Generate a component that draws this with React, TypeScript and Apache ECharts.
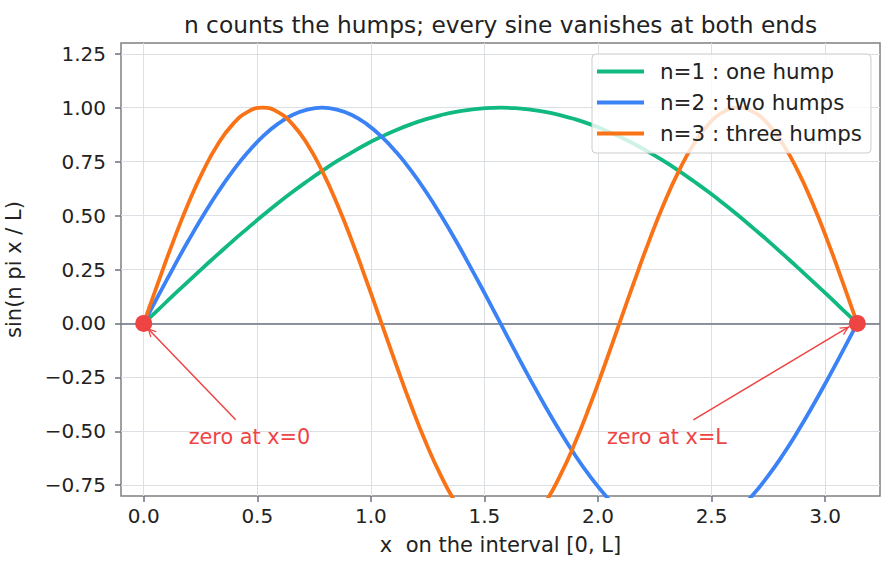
import React, { useEffect, useRef } from "react";
import * as echarts from "echarts";

// Sample positions along [0, L] (L = pi) and the curve values
const xs = [
  0, 0.0654, 0.1309, 0.1963, 0.2618, 0.3272, 0.3927, 0.4581, 0.5236, 0.589, 0.6545, 0.7199,
  0.7854, 0.8508, 0.9163, 0.9817, 1.0472, 1.1126, 1.1781, 1.2435, 1.309, 1.3744, 1.4399, 1.5053,
  1.5708, 1.6362, 1.7017, 1.7671, 1.8326, 1.898, 1.9635, 2.0289, 2.0944, 2.1598, 2.2253, 2.2907,
  2.3562, 2.4216, 2.4871, 2.5525, 2.618, 2.6834, 2.7489, 2.8143, 2.8798, 2.9452, 3.0107, 3.0761,
  3.1416,
];
const sinN1 = [
  0, 0.065, 0.131, 0.195, 0.259, 0.321, 0.383, 0.442, 0.5, 0.556, 0.609, 0.659,
  0.707, 0.752, 0.793, 0.832, 0.866, 0.897, 0.924, 0.947, 0.966, 0.981, 0.991, 0.998,
  1, 0.998, 0.991, 0.981, 0.966, 0.947, 0.924, 0.897, 0.866, 0.832, 0.793, 0.752,
  0.707, 0.659, 0.609, 0.556, 0.5, 0.442, 0.383, 0.321, 0.259, 0.195, 0.131, 0.065,
  0,
];
const sinN2 = [
  0, 0.131, 0.259, 0.383, 0.5, 0.609, 0.707, 0.793, 0.866, 0.924, 0.966, 0.991,
  1, 0.991, 0.966, 0.924, 0.866, 0.793, 0.707, 0.609, 0.5, 0.383, 0.259, 0.131,
  0, -0.131, -0.259, -0.383, -0.5, -0.609, -0.707, -0.793, -0.866, -0.924, -0.966, -0.991,
  -1, -0.991, -0.966, -0.924, -0.866, -0.793, -0.707, -0.609, -0.5, -0.383, -0.259, -0.131,
  0,
];
const sinN3 = [
  0, 0.195, 0.383, 0.556, 0.707, 0.832, 0.924, 0.981, 1, 0.981, 0.924, 0.832,
  0.707, 0.556, 0.383, 0.195, 0, -0.195, -0.383, -0.556, -0.707, -0.832, -0.924, -0.981,
  -1, -0.981, -0.924, -0.832, -0.707, -0.556, -0.383, -0.195, 0, 0.195, 0.383, 0.556,
  0.707, 0.832, 0.924, 0.981, 1, 0.981, 0.924, 0.832, 0.707, 0.556, 0.383, 0.195,
  0,
];
const seriesNames = ["n=1 : one hump", "n=2 : two humps", "n=3 : three humps"];
const seriesColors = ["#10b981", "#3b82f6", "#f97316"];

const xTicks = [0, 0.5, 1.0, 1.5, 2.0, 2.5, 3.0];
const yTicks = [-0.75, -0.5, -0.25, 0, 0.25, 0.5, 0.75, 1.0, 1.25];

// Zero markers at both ends
const markerX = [0, 3.1416];
const markerY = [0, 0];

// Annotations: text anchor, arrow start, arrow end (data coordinates)
const annoTexts = ["zero at x=0", "zero at x=L"];
const annoX = [0.2, 2.0416];
const annoY = [-0.55, -0.55];
const arrowFromX = [0.405, 2.42];
const arrowFromY = [-0.447, -0.447];
const arrowToX = [0.016, 3.106];
const arrowToY = [-0.021, -0.015];

const FONT = "DejaVu Sans";
const RED = "#ef4444";

const chevron = "path://M5,0 L10,10 L8.4,10 L5,3 L1.6,10 L0,10 Z";

export default function App() {
  const ref = useRef<HTMLDivElement>(null);

  useEffect(() => {
    if (!ref.current) return;
    const chart = echarts.init(ref.current, undefined, { renderer: "svg" });
    const curves = [sinN1, sinN2, sinN3];

    const lineSeries = curves.map((vals, k) => ({
      name: seriesNames[k],
      type: "line",
      data: xs.map((x, i) => [x, vals[i]]),
      showSymbol: false,
      smooth: 0.5,
      clip: true,
      z: 3,
      lineStyle: { color: seriesColors[k], width: 3.8 },
      itemStyle: { color: seriesColors[k] },
      emphasis: { disabled: true },
      ...(k === 0
        ? {
            markLine: {
              silent: true,
              symbol: ["none", "none"],
              label: { show: false },
              lineStyle: { color: "#6b7280", width: 1.6, type: "solid" },
              emphasis: { disabled: true },
              data: [{ yAxis: 0 }],
              z: 2,
            },
          }
        : {}),
    }));

    chart.setOption({
      animation: false,
      backgroundColor: "#ffffff",
      textStyle: { fontFamily: FONT },
      title: {
        text: "n counts the humps; every sine vanishes at both ends",
        left: 495.5,
        top: 8,
        textAlign: "center",
        textStyle: { fontSize: 23.3, fontWeight: "normal", color: "#222222", fontFamily: FONT },
      },
      grid: {
        left: 121,
        top: 43,
        width: 759,
        height: 453,
        containLabel: false,
        outerBoundsMode: "none",
        show: true,
        borderColor: "#808080",
        borderWidth: 1.5,
        backgroundColor: "transparent",
      },
      legend: {
        data: seriesNames,
        orient: "vertical",
        left: 592,
        top: 54,
        padding: [7, 9, 9, 5],
        itemWidth: 47,
        itemHeight: 4,
        itemGap: 10,
        icon: "rect",
        selectedMode: false,
        backgroundColor: "rgba(255,255,255,0.8)",
        borderColor: "#cccccc",
        borderWidth: 1,
        borderRadius: 4,
        textStyle: {
          fontSize: 21.4,
          color: "#222222",
          fontFamily: FONT,
          lineHeight: 20,
          padding: [0, 0, 0, 11],
        },
      },
      xAxis: {
        type: "value",
        min: -0.1,
        max: 3.2416,
        name: "x  on the interval [0, L]",
        nameLocation: "middle",
        nameGap: 38,
        nameTextStyle: { fontSize: 21, color: "#222222", fontFamily: FONT },
        axisLine: { show: false, onZero: false },
        axisTick: {
          show: true,
          length: 6,
          customValues: xTicks,
          lineStyle: { color: "#6b7280", width: 1.5 },
        },
        axisLabel: {
          customValues: xTicks,
          margin: 10,
          fontSize: 20,
          color: "#222222",
          fontFamily: FONT,
          formatter: (v: number) => v.toFixed(1),
        },
        splitLine: { show: true, lineStyle: { color: "#dcdfe4", width: 1 } },
      },
      yAxis: {
        type: "value",
        min: -0.8,
        max: 1.3,
        name: "sin(n pi x / L)",
        nameLocation: "middle",
        nameGap: 97,
        nameTextStyle: { fontSize: 21, color: "#222222", fontFamily: FONT },
        axisLine: { show: false, onZero: false },
        axisTick: {
          show: true,
          length: 6,
          customValues: yTicks,
          lineStyle: { color: "#6b7280", width: 1.5 },
        },
        axisLabel: {
          customValues: yTicks,
          margin: 15,
          fontSize: 20,
          color: "#222222",
          fontFamily: FONT,
          formatter: (v: number) => v.toFixed(2).replace("-", "\u2212"),
        },
        splitLine: { show: true, lineStyle: { color: "#dcdfe4", width: 1 } },
      },
      series: [
        ...lineSeries,
        {
          name: "zeros",
          type: "scatter",
          data: markerX.map((x, i) => [x, markerY[i]]),
          symbol: "circle",
          symbolSize: 17,
          itemStyle: { color: RED, opacity: 1 },
          z: 6,
          clip: false,
          emphasis: { disabled: true },
          silent: true,
          markLine: {
            silent: true,
            symbol: ["none", chevron],
            symbolSize: [9, 9],
            symbolOffset: [
              [0, 0],
              [0, 4.5],
            ],
            label: { show: false },
            lineStyle: { color: RED, width: 1.5, type: "solid" },
            itemStyle: { color: RED },
            emphasis: { disabled: true },
            data: arrowFromX.map((x, i) => [
              { coord: [x, arrowFromY[i]] },
              { coord: [arrowToX[i], arrowToY[i]] },
            ]),
          },
        },
        {
          name: "annotations",
          type: "scatter",
          data: annoX.map((x, i) => [x, annoY[i]]),
          symbolSize: 1,
          itemStyle: { color: "rgba(0,0,0,0)" },
          silent: true,
          z: 6,
          emphasis: { disabled: true },
          label: {
            show: true,
            position: [0, 0],
            align: "left",
            verticalAlign: "middle",
            offset: [0, -5],
            fontSize: 20.8,
            color: RED,
            opacity: 1,
            fontFamily: FONT,
            formatter: (p: any) => annoTexts[p.dataIndex],
          },
        },
      ],
    });

    return () => chart.dispose();
  }, []);

  return (
    <div
      ref={ref}
      style={{ position: "absolute", left: 0, top: 0, width: 894, height: 571 }}
    />
  );
}
